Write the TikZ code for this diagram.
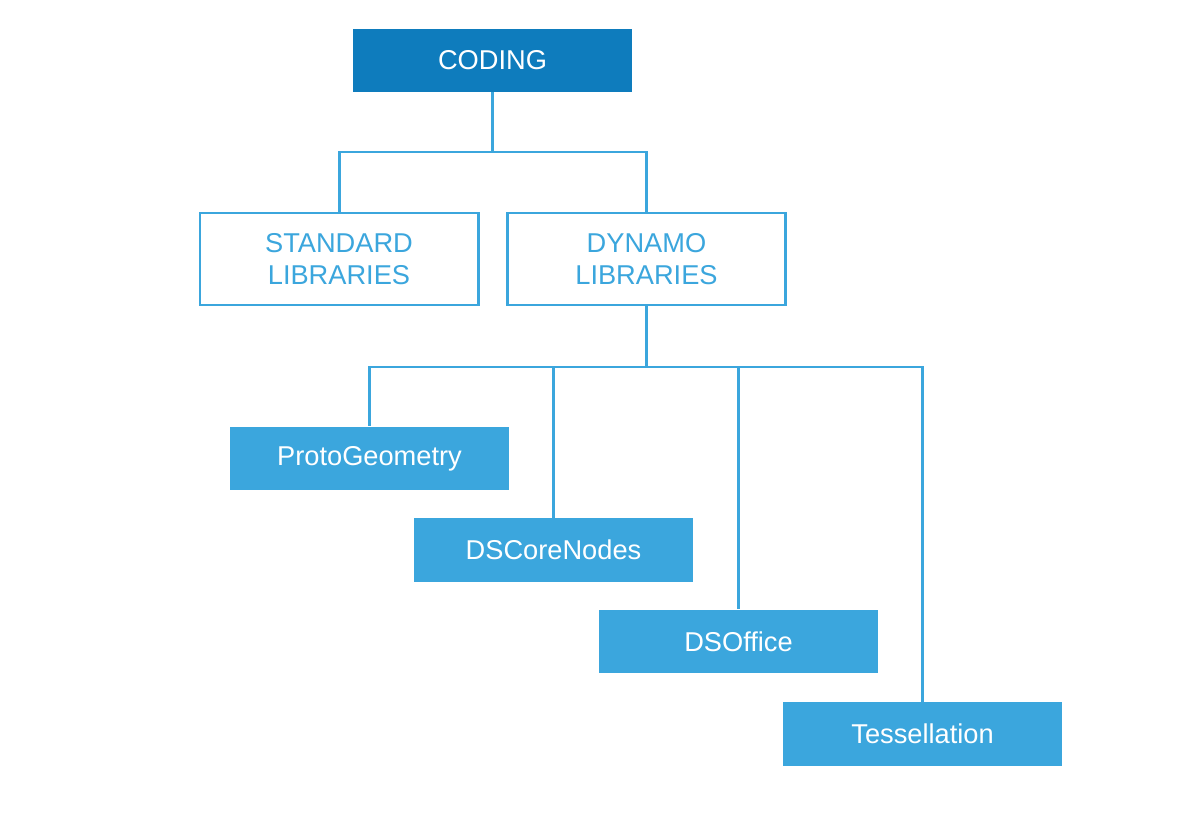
\documentclass[tikz,border=0pt]{standalone}
\usepackage{fontspec}
\setmainfont{Liberation Sans}
\usetikzlibrary{positioning}
\definecolor{topblue}{HTML}{0E7CBD}
\definecolor{libblue}{HTML}{3BA6DD}

\tikzset{
    topbox/.style={draw=none, fill=topblue, text=white, minimum width=5.58cm, minimum height=1.26cm, font=\fontsize{15.5}{18.6}\selectfont},
    libbox/.style={draw=libblue, line width=1.7pt, fill=white, text=libblue, minimum width=5.56cm, minimum height=1.84cm, align=center, font=\fontsize{15.5}{18.6}\selectfont},
    modbox/.style={draw=none, fill=libblue, text=white, minimum width=5.58cm, minimum height=1.27cm, font=\fontsize{15.5}{18.6}\selectfont},
    link/.style={draw=libblue, line width=1.7pt},
}

\begin{document}
\begin{tikzpicture}
        \useasboundingbox (0,0) rectangle (24,-16.72);
        % top level
        \node[topbox] (cod) at (9.85,-1.21) {CODING};
        \node[libbox] (std) at (6.78,-5.18) {STANDARD\\LIBRARIES};
        \node[libbox] (dyn) at (12.93,-5.18) {DYNAMO\\LIBRARIES};
        % dynamo modules
        \node[modbox] (pg) at (7.39,-9.17) {ProtoGeometry};
        \node[modbox] (dscn) at (11.07,-11.0) {DSCoreNodes};
        \node[modbox] (dso) at (14.77,-12.83) {DSOffice};
        \node[modbox] (tess) at (18.45,-14.68) {Tessellation};

        \coordinate (bus1) at (0,-3.04);
        \coordinate (bus2) at (0,-7.34);

        \draw[link] (cod.south) -- (cod.south |- bus1) -| (std.north);
        \draw[link] (cod.south |- bus1) -| (dyn.north);

        \draw[link] (dyn.south) -- (dyn.south |- bus2) -| (pg.north);
        \draw[link] (dyn.south |- bus2) -| (tess.north);
        \draw[link] (dscn.north |- bus2) -- (dscn.north);
        \draw[link] (dso.north |- bus2) -- (dso.north);
\end{tikzpicture}
\end{document}
